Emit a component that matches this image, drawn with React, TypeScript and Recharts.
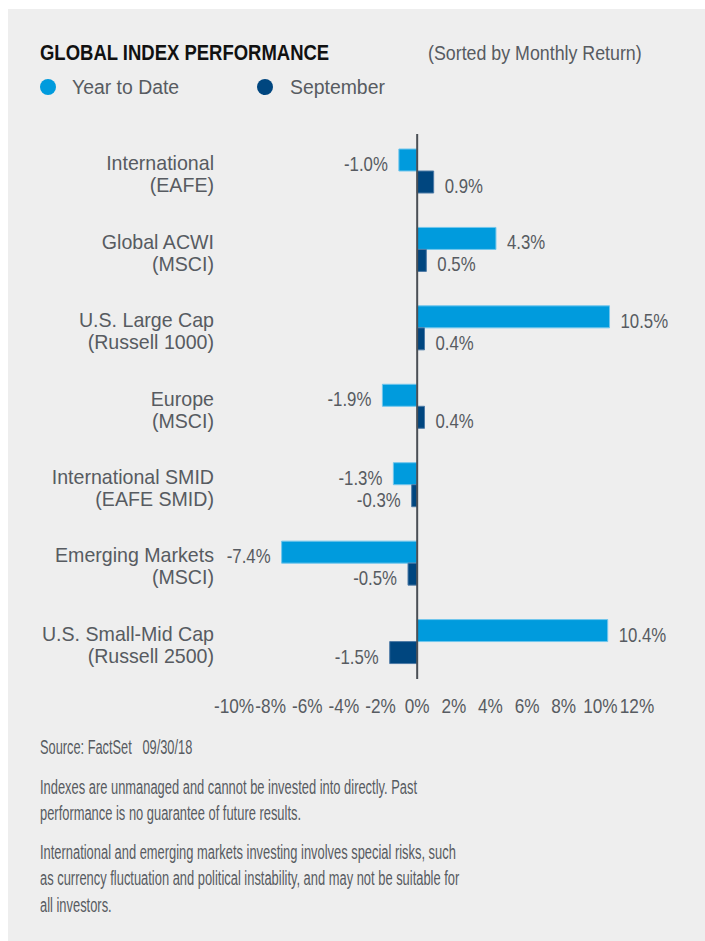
import React from 'react';
import { BarChart, Bar, XAxis, YAxis, ReferenceLine, LabelList } from 'recharts';

const categories = [
  'International|(EAFE)',
  'Global ACWI|(MSCI)',
  'U.S. Large Cap|(Russell 1000)',
  'Europe|(MSCI)',
  'International SMID|(EAFE SMID)',
  'Emerging Markets|(MSCI)',
  'U.S. Small-Mid Cap|(Russell 2500)',
];
const yearToDate = [-1.0, 4.3, 10.5, -1.9, -1.3, -7.4, 10.4];
const september = [0.9, 0.5, 0.4, 0.4, -0.3, -0.5, -1.5];
const xTicks = [-10, -8, -6, -4, -2, 0, 2, 4, 6, 8, 10, 12];

const FONT = "'Liberation Sans', Arial, sans-serif";
const TEXT = '#575b61';
const YTD_COLOR = '#009bdd';
const SEP_COLOR = '#00467f';

const data = categories.map((name, i) => ({ name, ytd: yearToDate[i], sep: september[i] }));

// squeezed svg text, to stand in for the condensed face of the original
function SqText({ x, y, s, anchor, children, size = 20 }: any) {
  return (
    <text
      transform={`translate(${x},${y}) scale(${s},1)`}
      textAnchor={anchor}
      dominantBaseline="central"
      fill={TEXT}
      fontSize={size}
      fontFamily={FONT}
    >
      {children}
    </text>
  );
}

function CategoryTick(props: any) {
  const { x, y, payload } = props;
  const [l1, l2] = String(payload.value).split('|');
  return (
    <g>
      <SqText x={x - 12} y={y - 8} s={0.98} anchor="end">{l1}</SqText>
      <SqText x={x - 12} y={y + 14} s={0.98} anchor="end">{l2}</SqText>
    </g>
  );
}

function ValueTick(props: any) {
  const { x, y, payload } = props;
  return (
    <SqText x={x} y={y + 17} s={0.86} anchor="middle">
      {payload.value}%
    </SqText>
  );
}

function ValueLabel(props: any) {
  const { x, y, width, height, value } = props;
  const v = Number(value);
  const left = Math.min(x, x + width);
  const right = Math.max(x, x + width);
  const tx = v >= 0 ? right + 11 : left - 11;
  return (
    <SqText x={tx} y={y + height / 2 + 4} s={0.84} anchor={v >= 0 ? 'start' : 'end'}>
      {v.toFixed(1)}%
    </SqText>
  );
}

const line = (left: number, cy: number, text: string, sx: number, extra: any = {}) => (
  <div
    style={{
      position: 'absolute',
      left,
      top: cy - 13,
      lineHeight: '26px',
      fontSize: 20,
      whiteSpace: 'nowrap',
      transform: `scaleX(${sx})`,
      transformOrigin: 'left center',
      color: TEXT,
      ...extra,
    }}
  >
    {text}
  </div>
);

export default function App() {
  return (
    <div style={{ position: 'fixed', left: 8, top: 9, right: 0, bottom: 0, background: '#eeeeee', fontFamily: FONT }}>
      {line(32, 44, 'GLOBAL INDEX PERFORMANCE', 0.84, { fontSize: 22, fontWeight: 700, color: '#111111' })}
      {line(420, 44, '(Sorted by Monthly Return)', 0.89)}
      <div style={{ position: 'absolute', left: 32, top: 70, width: 16, height: 16, borderRadius: 8, background: YTD_COLOR }} />
      {line(64, 78, 'Year to Date', 0.97)}
      <div style={{ position: 'absolute', left: 249, top: 70, width: 16, height: 16, borderRadius: 8, background: SEP_COLOR }} />
      {line(282, 78, 'September', 0.97)}

      <div style={{ position: 'absolute', left: 0, top: 0 }}>
        <BarChart
          width={697}
          height={720}
          data={data}
          layout="vertical"
          margin={{ top: 123, right: 68, bottom: 18, left: 0 }}
          barSize={22}
          barGap={0}
        >
          <XAxis
            type="number"
            domain={[-10, 12]}
            ticks={xTicks}
            axisLine={false}
            tickLine={false}
            height={30}
            tick={<ValueTick />}
            interval={0}
          />
          <YAxis type="category" dataKey="name" width={226} axisLine={false} tickLine={false} tick={<CategoryTick />} interval={0} />
          <Bar dataKey="ytd" fill={YTD_COLOR} stroke="#72c6ec" strokeWidth={1} isAnimationActive={false}>
            <LabelList dataKey="ytd" content={<ValueLabel />} />
          </Bar>
          <Bar dataKey="sep" fill={SEP_COLOR} stroke="#4d7aa6" strokeWidth={1} isAnimationActive={false}>
            <LabelList dataKey="sep" content={<ValueLabel />} />
          </Bar>
          <ReferenceLine
            x={0}
            stroke="#4a4f55"
            strokeWidth={2}
            shape={(p: any) => <line x1={p.x1} x2={p.x2} y1={p.y1 - 2} y2={p.y2 + 2} stroke="#4a4f55" strokeWidth={2} />}
          />
        </BarChart>
      </div>

      {line(32, 738, 'Source: FactSet\u00a0\u00a0\u00a009/30/18', 0.64)}
      {line(32, 778, 'Indexes are unmanaged and cannot be invested into directly. Past', 0.645)}
      {line(32, 804, 'performance is no guarantee of future results.', 0.645)}
      {line(32, 843, 'International and emerging markets investing involves special risks, such', 0.645)}
      {line(32, 869, 'as currency fluctuation and political instability, and may not be suitable for', 0.645)}
      {line(32, 896, 'all investors.', 0.645)}
    </div>
  );
}
